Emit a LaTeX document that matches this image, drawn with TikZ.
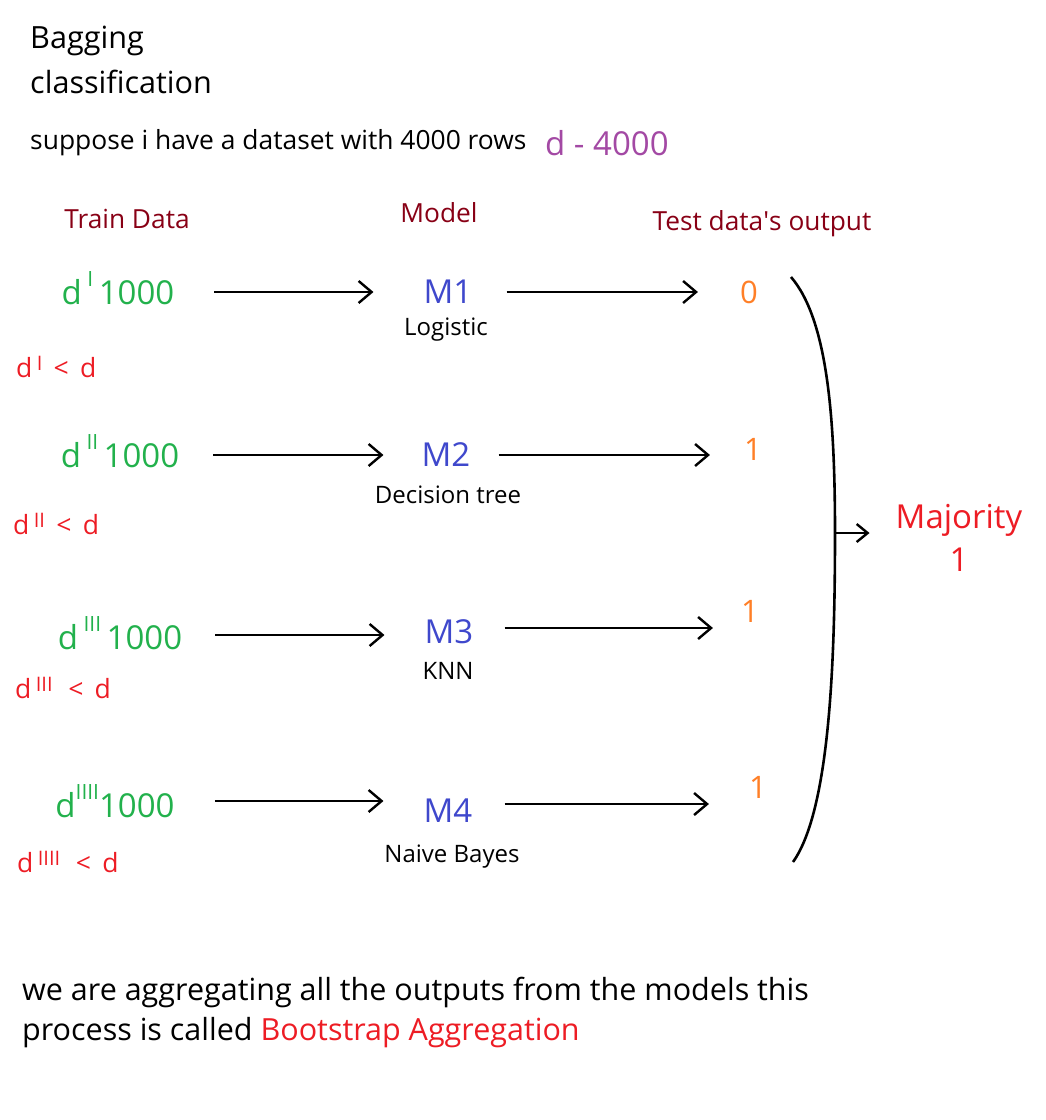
\documentclass[tikz,border=0pt]{standalone}
\usepackage{fontspec}
\setmainfont[Ligatures={NoCommon}]{Open Sans}
\usetikzlibrary{arrows.meta, positioning}

\definecolor{trgreen}{HTML}{22B14C}
\definecolor{outorange}{HTML}{FF7F27}
\definecolor{modblue}{HTML}{3F48CC}
\definecolor{hotred}{HTML}{ED1C24}
\definecolor{headred}{HTML}{880015}
\definecolor{setpurple}{HTML}{A349A4}

\newcommand{\fs}[1]{\fontsize{#1}{#1}\selectfont}
\newcommand{\dtrain}[1]{d\,\raisebox{0.55em}{\fs{21}#1}}
\newcommand{\dless}[1]{d\,\raisebox{0.3em}{\fs{20}#1}}

\tikzset{
  plain/.style={inner sep=0pt, anchor=west},
  head/.style={inner sep=0pt, text=headred, font=\fs{26.3}},
  train/.style={inner sep=0pt, text=trgreen, font=\fs{33}},
  model/.style={inner sep=0pt, text=modblue, font=\fs{33}},
  algo/.style={inner sep=0pt, font=\fs{24}},
  subset/.style={inner sep=0pt, anchor=west, text=hotred, font=\fs{26.5}},
  vote/.style={inner sep=0pt, text=outorange, font=\fs{31}},
  flow/.style={line width=2.4pt, -{Straight Barb[length=13pt,width=22pt,line width=2.4pt]}},
}

\begin{document}
\begin{tikzpicture}[x=1pt, y=-1pt]
	\useasboundingbox (0,0) rectangle (1046,1120);

	% title and dataset
	\node[plain, font=\fs{30.6}] (title) at (30,41) {Bagging};
	\node[plain, font=\fs{30.6}] (title2) at (30,82) {classification};
	\node[plain, font=\fs{26.4}] (suppose) at (30,143) {suppose i have a dataset with 4000 rows};
	\node[plain, font=\fs{33}, text=setpurple] (full) at (545,143) {d - 4000};

	% column headings
	\node[head] (htrain) at (127,219) {Train Data};
	\node[head] (hmodel) at (439,213) {Model};
	\node[head] (hout) at (762,224) {Test data\textquotesingle s output};

	% training subsets
	\node[train] (d1) at (118,288) {\dtrain{I}\,1000};
	\node[train] (d2) at (120,451) {\dtrain{II}\,1000};
	\node[train] (d3) at (120,633) {\dtrain{III}\,1000};
	\node[train] (d4) at (115,801) {d\raisebox{0.55em}{\fs{21}IIII}1000};

	\node[subset] (s1) at (16,367) {\dless{I}\, <\, d};
	\node[subset] (s2) at (13,524) {\dless{II}\, <\, d};
	\node[subset] (s3) at (15,688) {\dless{III}\,\, <\, d};
	\node[subset] (s4) at (17,862) {\dless{IIII}\,\, <\, d};

	% models
	\node[model] (m1) at (448,292) {M1};
	\node[model] (m2) at (446,455) {M2};
	\node[model] (m3) at (449,632) {M3};
	\node[model] (m4) at (448,811) {M4};

	\node[algo] (a1) at (446,330) {Logistic};
	\node[algo] (a2) at (448,495) {Decision tree};
	\node[algo] (a3) at (448,671) {KNN};
	\node[algo] (a4) at (452,857) {Naive Bayes};

	% outputs
	\node[vote] (o1) at (749,292) {0};
	\node[vote] (o2) at (753,449) {1};
	\node[vote] (o3) at (750,611) {1};
	\node[vote] (o4) at (758,787) {1};

	\draw[flow, shorten <=40pt, shorten >=50pt] (d1.east |- m1.west) -- (m1.west);
	\draw[flow, shorten <=34pt, shorten >=38pt] (d2.east |- m2.west) -- (m2.west);
	\draw[flow, shorten <=33pt, shorten >=40pt] ([yshift=-2pt]d3.east) -- ([yshift=-2pt]d3.east -| m3.west);
	\draw[flow, shorten <=40pt, shorten >=40pt] (d4.east) -- (d4.east -| m4.west);

	\draw[flow, shorten <=34pt, shorten >=42pt] (m1.east) -- (m1.east -| o1.west);
	\draw[flow, shorten <=28pt, shorten >=34pt] (m2.east) -- (m2.east -| o2.west);
	\draw[flow, shorten <=31pt, shorten >=28pt] ([yshift=4pt]m3.east) -- ([yshift=4pt]m3.east -| o3.west);
	\draw[flow, shorten <=32pt, shorten >=40pt] ([yshift=7pt]m4.east) -- ([yshift=7pt]m4.east -| o4.west);

	% brace and vote
	\coordinate (btop) at (791,277);
	\coordinate (bmid) at (835,533);
	\coordinate (bbot) at (793,862);
	\draw[line width=2.6pt] (btop) .. controls (828,320) and (835,420) .. (bmid)
		.. controls (835,660) and (830,810) .. (bbot);

	\node[inner sep=0pt, text=hotred, font=\fs{33}, align=center] (major) at (959,538) {Majority\\[10pt]1};
	\draw[line width=2.4pt, shorten >=26pt, -{Straight Barb[length=11pt,width=18pt,line width=2.4pt]}] (bmid) -- (major.west |- bmid);

	% summary
	\node[plain, font=\fs{30.5}] (sum1) at (22,992) {we are aggregating all the outputs from the models this};
	\node[plain, font=\fs{30.5}] (sum2) at (22,1033) {process is called \textcolor{hotred}{Bootstrap Aggregation}};
\end{tikzpicture}
\end{document}
